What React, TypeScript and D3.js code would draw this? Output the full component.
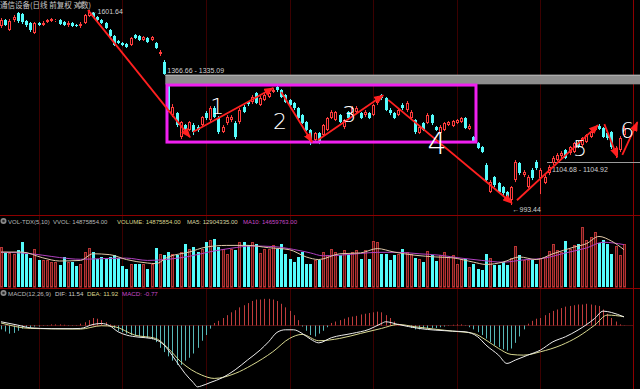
import React from 'react'
import * as d3 from 'd3'

const W = 640
const H = 389

// daily bars: [open, high, low, close]
const candles: [number, number, number, number][] = [
  [1540.0, 1570.5, 1532.5, 1562.8], [1562.8, 1566.7, 1540.0, 1543.8], [1525.0, 1566.7, 1521.3, 1559.0], [1562.8, 1582.1, 1555.2, 1574.4], [1589.9, 1593.8, 1551.4, 1559.0],
  [1586.0, 1589.9, 1547.6, 1555.2], [1559.0, 1562.8, 1536.3, 1543.8], [1551.4, 1555.2, 1517.6, 1525.0], [1513.9, 1555.2, 1510.1, 1551.4], [1551.4, 1555.2, 1540.0, 1543.8],
  [1543.8, 1559.0, 1540.0, 1551.4], [1555.2, 1566.7, 1551.4, 1562.8], [1559.0, 1570.5, 1555.2, 1566.7], [1559.0, 1566.7, 1555.2, 1562.8], [1562.8, 1566.7, 1543.8, 1547.6],
  [1555.2, 1559.0, 1540.0, 1543.8], [1543.8, 1559.0, 1536.3, 1551.4], [1551.4, 1555.2, 1536.3, 1540.0], [1543.8, 1547.6, 1536.3, 1540.0], [1540.0, 1555.2, 1532.5, 1547.6],
  [1551.4, 1586.0, 1547.6, 1582.1], [1578.2, 1601.64, 1574.4, 1593.8], [1589.9, 1593.8, 1570.5, 1574.4], [1574.4, 1578.2, 1559.0, 1562.8], [1562.8, 1566.7, 1547.6, 1551.4],
  [1551.4, 1555.2, 1528.8, 1532.5], [1525.0, 1528.8, 1499.1, 1502.7], [1502.7, 1506.4, 1466.4, 1470.0], [1484.5, 1488.1, 1473.6, 1477.3], [1477.3, 1480.9, 1466.4, 1470.0],
  [1473.6, 1477.3, 1459.3, 1462.8], [1470.0, 1499.1, 1466.4, 1495.4], [1506.4, 1510.1, 1491.8, 1495.4], [1502.7, 1506.4, 1484.5, 1488.1], [1488.1, 1502.7, 1484.5, 1499.1],
  [1495.4, 1499.1, 1477.3, 1480.9], [1488.1, 1502.7, 1484.5, 1499.1], [1477.3, 1480.9, 1455.7, 1459.3], [1437.9, 1452.1, 1430.9, 1445.0], [1410.0, 1416.9, 1366.66, 1369.2],
  [1329.5, 1335.09, 1247.4, 1253.5], [1238.2, 1272.1, 1232.2, 1262.8], [1244.3, 1247.4, 1202.4, 1208.3], [1173.3, 1220.2, 1167.6, 1217.2], [1208.3, 1211.3, 1182.0, 1187.8],
  [1193.6, 1220.2, 1190.7, 1217.2], [1208.3, 1214.3, 1179.1, 1187.8], [1202.4, 1208.3, 1187.8, 1193.6], [1208.3, 1235.2, 1202.4, 1232.2], [1244.3, 1250.4, 1223.2, 1229.2],
  [1223.2, 1265.9, 1217.2, 1259.7], [1259.7, 1265.9, 1229.2, 1232.2], [1229.2, 1235.2, 1182.0, 1187.8], [1187.8, 1208.3, 1184.9, 1202.4], [1214.3, 1238.2, 1208.3, 1232.2],
  [1223.2, 1238.2, 1217.2, 1232.2], [1214.3, 1220.2, 1167.6, 1173.3], [1217.2, 1259.7, 1211.3, 1253.5], [1262.8, 1269.0, 1244.3, 1247.4], [1278.4, 1281.5, 1265.9, 1272.1],
  [1278.4, 1300.5, 1272.1, 1294.1], [1306.9, 1310.1, 1272.1, 1275.2], [1269.0, 1297.3, 1265.9, 1291.0], [1284.6, 1306.9, 1281.5, 1300.5], [1294.1, 1313.3, 1291.0, 1306.9],
  [1310.1, 1323.0, 1306.9, 1316.5], [1326.2, 1329.5, 1310.1, 1316.5], [1316.5, 1319.7, 1291.0, 1294.1], [1300.5, 1303.7, 1275.2, 1278.4], [1284.6, 1287.8, 1265.9, 1269.0],
  [1275.2, 1278.4, 1253.5, 1259.7], [1259.7, 1262.8, 1226.2, 1229.2], [1238.2, 1241.3, 1211.3, 1214.3], [1217.2, 1220.2, 1190.7, 1193.6], [1193.6, 1196.5, 1150.5, 1159.0],
  [1164.7, 1187.8, 1159.0, 1184.9], [1184.9, 1187.8, 1153.3, 1159.0], [1179.1, 1211.3, 1173.3, 1208.3], [1193.6, 1232.2, 1190.7, 1229.2], [1229.2, 1253.5, 1226.2, 1247.4],
  [1223.2, 1250.4, 1220.2, 1247.4], [1238.2, 1241.3, 1214.3, 1217.2], [1202.4, 1226.2, 1196.5, 1223.2], [1247.4, 1250.4, 1223.2, 1229.2], [1238.2, 1265.9, 1235.2, 1259.7],
  [1247.4, 1265.9, 1241.3, 1259.7], [1244.3, 1247.4, 1226.2, 1229.2], [1238.2, 1253.5, 1232.2, 1247.4], [1244.3, 1247.4, 1226.2, 1229.2], [1238.2, 1272.1, 1235.2, 1269.0],
  [1275.2, 1297.3, 1269.0, 1291.0], [1300.5, 1303.7, 1284.6, 1291.0], [1291.0, 1294.1, 1250.4, 1253.5], [1253.5, 1259.7, 1238.2, 1244.3], [1244.3, 1247.4, 1226.2, 1229.2],
  [1238.2, 1259.7, 1235.2, 1253.5], [1269.0, 1275.2, 1253.5, 1259.7], [1253.5, 1281.5, 1247.4, 1275.2], [1229.2, 1253.5, 1226.2, 1247.4], [1223.2, 1226.2, 1182.0, 1187.8],
  [1184.9, 1208.3, 1182.0, 1202.4], [1214.3, 1217.2, 1190.7, 1193.6], [1214.3, 1244.3, 1211.3, 1238.2], [1238.2, 1241.3, 1208.3, 1214.3], [1202.4, 1205.4, 1190.7, 1193.6],
  [1184.9, 1208.3, 1182.0, 1202.4], [1193.6, 1217.2, 1190.7, 1214.3], [1208.3, 1220.2, 1205.4, 1217.2], [1205.4, 1223.2, 1202.4, 1220.2], [1214.3, 1226.2, 1211.3, 1223.2],
  [1217.2, 1232.2, 1214.3, 1229.2], [1229.2, 1232.2, 1196.5, 1199.5], [1196.5, 1211.3, 1193.6, 1205.4], [1173.3, 1176.2, 1156.2, 1159.0], [1156.2, 1159.0, 1139.3, 1142.1],
  [1144.9, 1147.7, 1128.2, 1131.0], [1095.5, 1100.9, 1053.4, 1056.0], [1025.4, 1056.0, 1022.9, 1050.8], [1063.8, 1066.4, 1038.0, 1043.1], [1048.3, 1050.8, 1022.9, 1025.4],
  [1038.0, 1040.6, 1017.9, 1022.9], [1025.4, 1027.9, 1005.5, 1010.5], [1005.5, 1040.6, 993.44, 1038.0], [1056.0, 1109.0, 1050.8, 1103.6], [1100.9, 1103.6, 1069.0, 1074.3],
  [1069.0, 1082.2, 1063.8, 1076.9], [1038.0, 1069.0, 1035.5, 1063.8], [1082.2, 1087.5, 1056.0, 1061.2], [1103.6, 1109.0, 1082.2, 1087.5], [1061.2, 1087.5, 1020.4, 1082.2],
  [1048.3, 1069.0, 1045.7, 1063.8], [1074.3, 1095.5, 1069.0, 1090.2], [1100.9, 1120.0, 1095.5, 1114.5], [1109.0, 1128.2, 1106.3, 1122.7], [1120.0, 1133.7, 1114.5, 1128.2],
  [1136.5, 1139.3, 1111.7, 1114.5], [1128.2, 1147.7, 1122.7, 1144.9], [1131.0, 1159.0, 1128.2, 1156.2], [1156.2, 1161.9, 1142.1, 1147.7], [1150.5, 1173.3, 1144.9, 1170.5],
  [1159.0, 1182.0, 1156.2, 1179.1], [1173.3, 1190.7, 1170.5, 1187.8], [1193.6, 1205.4, 1190.7, 1202.4], [1205.4, 1211.3, 1193.6, 1196.5], [1199.5, 1202.4, 1170.5, 1173.3],
  [1184.9, 1187.8, 1164.7, 1170.5], [1187.8, 1190.7, 1139.3, 1144.9], [1122.7, 1147.7, 1114.5, 1142.1], [1136.5, 1176.2, 1131.0, 1170.5], [1179.1, 1205.4, 1173.3, 1199.5],
]

// volume, millions of shares
const volumes = [
  13.8, 11.9, 11.9, 11.5, 12.9, 15.6, 11.5, 10.1, 13.3, 9.2,
  9.2, 9.2, 8.6, 8.6, 7.5, 10.4, 8.6, 8.6, 7.1, 8.1,
  12.1, 13.5, 12.1, 9.8, 10.4, 9.8, 10.4, 11.0, 10.1, 7.1,
  6.3, 8.1, 8.1, 8.1, 8.1, 6.3, 8.1, 13.6, 11.5, 11.0,
  12.1, 11.5, 11.0, 12.1, 14.8, 13.3, 13.8, 12.1, 13.3, 15.6,
  16.1, 16.7, 13.8, 13.3, 11.5, 13.3, 12.7, 15.6, 15.6, 14.4,
  15.6, 14.8, 11.8, 13.3, 13.3, 14.4, 13.3, 14.8, 11.5, 9.8,
  8.6, 10.4, 12.1, 7.8, 7.8, 9.2, 9.2, 12.1, 11.0, 13.3,
  12.1, 11.0, 12.9, 11.0, 12.1, 12.7, 9.8, 12.9, 9.8, 15.9,
  15.6, 11.5, 11.5, 9.5, 11.0, 11.5, 13.3, 12.1, 11.5, 10.1,
  9.8, 8.6, 12.5, 11.0, 9.0, 11.0, 12.1, 10.4, 11.0, 7.8,
  9.8, 9.8, 6.9, 8.1, 6.3, 5.8, 11.3, 10.1, 7.7, 7.5,
  8.6, 7.5, 10.1, 14.1, 11.0, 9.5, 9.2, 9.2, 8.1, 10.1,
  10.4, 12.5, 14.8, 12.7, 12.1, 15.9, 13.3, 14.4, 15.0, 20.8,
  16.1, 17.3, 19.0, 15.2, 16.1, 15.0, 11.5, 14.1, 11.0, 14.875854,
]

// volume MA5 / MA10: [bar index, millions]
const ma5Pts: [number, number][] = [
  [0, 12.1], [5, 12.1], [10, 10.1], [14, 9.0], [19, 9.2], [22, 11.5], [26, 11.2], [30, 9.5], [35, 8.3], [37, 8.1],
  [40, 10.4], [45, 12.1], [49, 13.8], [54, 14.4], [59, 14.4], [64, 13.6], [69, 12.9], [73, 10.4], [76, 9.5], [81, 11.5],
  [86, 11.8], [90, 13.3], [94, 12.1], [99, 11.0], [104, 10.4], [108, 10.1], [113, 8.6], [116, 7.8], [120, 8.6], [124, 10.4],
  [128, 9.5], [132, 11.5], [137, 13.8], [140, 15.0], [143, 17.5], [146, 15.9], [149, 12.904335],
]
const ma10Pts: [number, number][] = [
  [0, 12.0], [5, 11.8], [10, 11.0], [14, 10.2], [19, 9.6], [24, 9.8], [30, 10.0], [35, 9.2], [40, 9.6], [45, 10.6],
  [50, 12.2], [55, 13.4], [60, 14.2], [65, 14.0], [70, 13.0], [74, 11.8], [77, 10.8], [81, 11.0], [86, 11.6], [90, 12.0],
  [95, 12.0], [100, 11.5], [105, 11.0], [110, 10.0], [115, 9.2], [120, 8.6], [125, 9.4], [130, 10.0], [135, 11.8], [140, 13.5],
  [144, 15.5], [149, 14.659763],
]

// MACD histogram per bar
const macdBars = [
  -6, -9, -12, -11, -8, -5, -3, -4, -2, -2,
  -1, -1, 1, 1, 1, 0.5, -1, -1, -1, 2,
  4, 7, 10, 9, 7, 4, 1, -4, -8, -10,
  -12, -14, -15, -16, -17, -18, -20, -24, -32, -38,
  -44, -50, -56, -56, -50, -46, -40, -32, -22, -14,
  -5, 3, 6, 10, 14, 18, 21, 25, 28, 31,
  34, 36, 36, 37, 37, 36, 34, 30, 25, 20,
  14, 7, -2, -8, -14, -16, -12, -8, -3, 3,
  5, 7, 9, 11, 12, 13, 15, 16, 17, 18,
  19, 18, 14, 10, 5, 2, 0.5, -2, -4, -6,
  -6, -5, -5, -4, -4, -3, -2, -1, 0.5, 1,
  1, -1, -3, -6, -10, -14, -19, -24, -28, -31,
  -34, -36, -33, -25, -16, -6, 2, 6, 9, 10,
  14, 17, 20, 22, 24, 26, 27, 28, 29, 29,
  30, 29, 28, 27, 22, 16, 10, 5, 1, -0.77,
]

// DIF / DEA: [bar index, value]
const difPts: [number, number][] = [
  [0, 4.7], [4, 0], [7, -3.8], [12, -5], [17, -5], [19, -4.7], [22, 0.9], [24, 2.3], [26, -0.9], [28, -9.4],
  [30, -14], [33, -17], [36, -18.8], [38, -23.5], [39, -28], [40, -35], [42, -51.6], [44, -68], [46, -81], [47, -87],
  [48, -85.5], [50, -81], [53, -74], [56, -63], [59, -49], [62, -35], [64, -23.5], [66, -10.3], [68, -6.6], [70, -6.6],
  [72, -11.7], [74, -19.7], [76, -25], [79, -17.8], [84, -11.7], [88, -6.1], [91, 2.3], [92, 4.7], [95, 0.9], [100, -4.7],
  [108, -8.5], [111, -9.4], [114, -16.4], [116, -28.2], [119, -42.3], [121, -54], [123, -49.3], [126, -42.3], [129, -35.2], [132, -23.5],
  [135, -16.4], [138, -7], [142, 9.4], [144, 19.7], [146, 17.8], [149, 11.54],
]
const deaPts: [number, number][] = [
  [0, 3], [7, -4.7], [19, -5.6], [24, -0.9], [27, -2], [32, -14.1], [37, -18.8], [40, -32.9], [43, -51.6], [48, -70.4],
  [51, -75.1], [56, -68.1], [60, -56.3], [65, -37.6], [69, -18.8], [72, -13.1], [76, -22], [81, -18.8], [86, -11.7], [91, -4.7],
  [95, 0.9], [99, -2.3], [108, -8.5], [113, -11.7], [116, -21.1], [119, -32.9], [122, -41.3], [125, -42.3], [129, -37.6], [134, -28.2],
  [138, -16.4], [142, 0], [145, 14.1], [149, 11.92],
]

// month separators (bar index)
const monthBars = [9, 29, 49, 69, 89, 109, 129]

// hand drawn arrows: [fromBar, fromPrice, toBar, toPrice]
const arrows: [number, number, number, number][] = [
  [20.8, 1601, 45.2, 1173],
  [45.9, 1188, 65.1, 1323],
  [67.0, 1310, 74.4, 1159],
  [75.8, 1165, 91.4, 1300],
  [92.6, 1285, 122.2, 998],
  [123.4, 1005, 142.8, 1208],
  [144.3, 1211, 147.4, 1117],
  [148.6, 1123, 152.2, 1217],
]
// hand written wave numbers: [label, bar, price]
const waveLabels: [string, number, number][] = [
  ['1', 51.7, 1259], ['2', 66.7, 1214], ['3', 83.3, 1235], ['4', 104.3, 1150], ['5', 138.5, 1136], ['6', 149.8, 1188],
]

const gapHigh = 1366.66
const gapLow = 1335.09
const gapFrom = 39.3
const flatLevel = [1104.68, 1104.92]
const flatFrom = 130.6
const boxBars = [39.7, 113.6]
const boxPrices = [1332.7, 1159.0]

const UP = '#ff3c3c'
const DOWN = '#54fcfc'
const GRID = '#3c0000'
const SEP = '#8c0000'
const NUM = "'Liberation Sans', Arial, sans-serif"

export default function App() {
  const svgRef = React.useRef<SVGSVGElement>(null)

  React.useEffect(() => {
    document.body.style.margin = '0'
    document.body.style.background = '#000'
    const svg = d3.select(svgRef.current!)
    svg.selectAll('*').remove()

    const x = d3.scaleLinear().domain([0, candles.length - 1]).range([1, 624])
    const yP = d3.scaleLog().domain([993.44, 1601.64]).range([205, 10])
    const yV = d3.scaleLinear().domain([0, 22.5]).range([287, 222])
    const yM = d3.scaleLinear().domain([-90, 40]).range([389, 296.7])
    const cx = (i: number) => Math.round(x(i)) + 0.5

    svg.append('rect').attr('width', W).attr('height', H).attr('fill', '#000')

    const defs = svg.append('defs')
    defs.append('marker')
      .attr('id', 'ah').attr('viewBox', '0 0 10 8')
      .attr('refX', 9).attr('refY', 4)
      .attr('markerWidth', 10).attr('markerHeight', 8)
      .attr('markerUnits', 'userSpaceOnUse').attr('orient', 'auto')
      .append('path').attr('d', 'M0,0 L10,4 L0,8 z').attr('fill', '#ff2020')

    // grid
    const grid = svg.append('g')
    grid.selectAll('line.m').data(monthBars).join('line')
      .attr('x1', d => cx(d)).attr('x2', d => cx(d)).attr('y1', 0).attr('y2', H)
      .attr('stroke', GRID).attr('stroke-width', 1)
    ;[215.5, 288.5].forEach(y => grid.append('line').attr('x1', 0).attr('x2', W).attr('y1', y).attr('y2', y).attr('stroke', SEP))
    grid.append('line').attr('x1', 633.5).attr('x2', 633.5).attr('y1', 0).attr('y2', H).attr('stroke', SEP)
    grid.append('line').attr('x1', 0).attr('x2', 633).attr('y1', Math.round(yM(0)) + 0.5).attr('y2', Math.round(yM(0)) + 0.5)
      .attr('stroke', '#4a1010')

    // gap band + flat band
    const main = svg.append('g')
    main.append('rect').attr('x', x(gapFrom)).attr('y', yP(gapHigh))
      .attr('width', W - x(gapFrom)).attr('height', yP(gapLow) - yP(gapHigh)).attr('fill', '#8e8e8e')
    main.append('line').attr('x1', x(gapFrom)).attr('x2', W).attr('y1', yP(gapHigh) + 0.5).attr('y2', yP(gapHigh) + 0.5)
      .attr('stroke', '#b8b8b8')
    main.append('text').attr('x', x(gapFrom) + 2).attr('y', yP(gapHigh) - 2)
      .attr('font-family', NUM).attr('font-size', 7).attr('fill', '#d0d0d0')
      .text(`${gapHigh.toFixed(2)} - ${gapLow.toFixed(2)}`)
    const fy = Math.round(yP((flatLevel[0] + flatLevel[1]) / 2)) + 0.5
    main.append('line').attr('x1', x(flatFrom)).attr('x2', W).attr('y1', fy).attr('y2', fy).attr('stroke', '#9a9a9a')
    main.append('text').attr('x', x(flatFrom) + 5).attr('y', fy + 9)
      .attr('font-family', NUM).attr('font-size', 7).attr('fill', '#d0d0d0')
      .text(`${flatLevel[0].toFixed(2)} - ${flatLevel[1].toFixed(2)}`)

    // candles
    const cg = main.append('g')
    candles.forEach(([o, h, l, c], i) => {
      const px = cx(i)
      const up = c >= o
      const top = Math.round(yP(Math.max(o, c)))
      const bot = Math.max(top + 1, Math.round(yP(Math.min(o, c))))
      if (up) {
        cg.append('line').attr('x1', px).attr('x2', px).attr('y1', yP(h)).attr('y2', top).attr('stroke', UP)
        cg.append('line').attr('x1', px).attr('x2', px).attr('y1', bot).attr('y2', yP(l)).attr('stroke', UP)
        cg.append('rect').attr('x', px - 1).attr('y', top + 0.5).attr('width', 2).attr('height', Math.max(0, bot - top - 1))
          .attr('fill', '#000').attr('stroke', UP).attr('stroke-width', 1)
      } else {
        cg.append('line').attr('x1', px).attr('x2', px).attr('y1', yP(h)).attr('y2', yP(l)).attr('stroke', DOWN)
        cg.append('rect').attr('x', px - 1.5).attr('y', top).attr('width', 3).attr('height', bot - top).attr('fill', DOWN)
      }
    })

    // extreme labels
    const hiIdx = d3.maxIndex(candles, d => d[1])
    const loIdx = d3.minIndex(candles, d => d[2])
    main.append('text').attr('x', cx(hiIdx) + 1).attr('y', yP(candles[hiIdx][1]) + 4)
      .attr('font-family', NUM).attr('font-size', 7).attr('fill', '#d0d0d0')
      .text(`←${candles[hiIdx][1].toFixed(2)}`)
    main.append('text').attr('x', cx(loIdx) + 1).attr('y', yP(candles[loIdx][2]) + 7)
      .attr('font-family', NUM).attr('font-size', 7).attr('fill', '#d0d0d0')
      .text(`←${candles[loIdx][2].toFixed(2)}`)

    // magenta consolidation box
    main.append('rect')
      .attr('x', x(boxBars[0])).attr('y', yP(boxPrices[0]))
      .attr('width', x(boxBars[1]) - x(boxBars[0])).attr('height', yP(boxPrices[1]) - yP(boxPrices[0]))
      .attr('fill', 'none').attr('stroke', '#f020f0').attr('stroke-width', 3)

    // arrows
    main.selectAll('line.arrow').data(arrows).join('line')
      .attr('x1', d => x(d[0])).attr('y1', d => yP(d[1]))
      .attr('x2', d => x(d[2])).attr('y2', d => yP(d[3]))
      .attr('stroke', '#ff2020').attr('stroke-width', 1.8)
      .attr('marker-end', 'url(#ah)')

    // wave numbers
    main.selectAll('text.wave').data(waveLabels).join('text')
      .attr('x', d => x(d[1])).attr('y', d => yP(d[2]))
      .attr('text-anchor', 'middle').attr('dominant-baseline', 'middle')
      .attr('font-family', "'DejaVu Sans', sans-serif").attr('font-weight', 300)
      .attr('font-size', d => d[0] === '4' ? 30 : 22)
      .attr('fill', '#ffffff')
      .text(d => d[0])

    // title
    main.append('text').attr('x', 0).attr('y', 8)
      .attr('font-family', "'Noto Sans CJK SC', sans-serif").attr('font-size', 7.5).attr('fill', '#c8c8c8')
      .text('通信设备(日线 前复权 对数)')
    const icon = (g: any, ix: number, iy: number) => {
      g.append('circle').attr('cx', ix).attr('cy', iy).attr('r', 3).attr('fill', '#8a8a8a')
      g.append('circle').attr('cx', ix).attr('cy', iy).attr('r', 1.3).attr('fill', '#2a2a2a')
    }
    icon(main, 80, 5)

    // volume
    const vg = svg.append('g')
    volumes.forEach((v, i) => {
      const [o, , , c] = candles[i]
      const px = cx(i)
      const top = Math.round(yV(v))
      if (c >= o) {
        vg.append('rect').attr('x', px - 1).attr('y', top + 0.5).attr('width', 2).attr('height', 287 - top - 0.5)
          .attr('fill', '#4a1212').attr('stroke', '#b83434')
      } else {
        vg.append('rect').attr('x', px - 1.5).attr('y', top).attr('width', 3).attr('height', 287 - top).attr('fill', DOWN)
      }
    })
    const vline = d3.line<[number, number]>().x(d => x(d[0])).y(d => yV(d[1])).curve(d3.curveMonotoneX)
    vg.append('path').attr('d', vline(ma10Pts)!).attr('fill', 'none').attr('stroke', '#b040c0').attr('stroke-width', 1)
    vg.append('path').attr('d', vline(ma5Pts)!).attr('fill', 'none').attr('stroke', '#e0c8a8').attr('stroke-width', 1)

    const volLabel = vg.append('text').attr('y', 223.5).attr('font-family', NUM).attr('font-size', 6)
    const last = volumes.length - 1
    const fmt = (v: number) => (v * 1e6).toFixed(2)
    volLabel.append('tspan').attr('x', 8).attr('fill', '#b8b8b8').text('VOL-TDX(5,10)')
    volLabel.append('tspan').attr('x', 53).attr('fill', '#b8b8b8').text(`VVOL: ${fmt(volumes[last])}`)
    volLabel.append('tspan').attr('x', 117).attr('fill', '#d8d48c').text(`VOLUME: ${fmt(volumes[last])}`)
    volLabel.append('tspan').attr('x', 187).attr('fill', '#d8d4a0').text(`MA5: ${fmt(ma5Pts[ma5Pts.length - 1][1])}`)
    volLabel.append('tspan').attr('x', 243).attr('fill', '#c848c8').text(`MA10: ${fmt(ma10Pts[ma10Pts.length - 1][1])}`)
    icon(vg, 3.5, 221)

    // MACD
    const mg = svg.append('g')
    const z = Math.round(yM(0)) + 0.5
    mg.selectAll('line.h').data(macdBars).join('line')
      .attr('x1', (_, i) => cx(i)).attr('x2', (_, i) => cx(i))
      .attr('y1', z).attr('y2', d => yM(d))
      .attr('stroke', d => d >= 0 ? '#c03c3c' : '#58b8b8').attr('stroke-width', 1)
    const mline = d3.line<[number, number]>().x(d => x(d[0])).y(d => yM(d[1])).curve(d3.curveMonotoneX)
    mg.append('path').attr('d', mline(deaPts)!).attr('fill', 'none').attr('stroke', '#d8d890').attr('stroke-width', 1)
    mg.append('path').attr('d', mline(difPts)!).attr('fill', 'none').attr('stroke', '#ececec').attr('stroke-width', 1)

    const macdLabel = mg.append('text').attr('y', 295.5).attr('font-family', NUM).attr('font-size', 6.2)
    macdLabel.append('tspan').attr('x', 8).attr('fill', '#b8b8b8').text('MACD(12,26,9)')
    macdLabel.append('tspan').attr('x', 55).attr('fill', '#c8c8c8').text(`DIF: ${difPts[difPts.length - 1][1].toFixed(2)}`)
    macdLabel.append('tspan').attr('x', 87).attr('fill', '#d8d48c').text(`DEA: ${deaPts[deaPts.length - 1][1].toFixed(2)}`)
    macdLabel.append('tspan').attr('x', 122).attr('fill', '#c848c8').text(`MACD: ${macdBars[macdBars.length - 1].toFixed(2)}`)
    icon(mg, 3.5, 293)
  }, [])

  return <svg ref={svgRef} width={W} height={H} style={{ display: 'block', background: '#000' }} />
}
